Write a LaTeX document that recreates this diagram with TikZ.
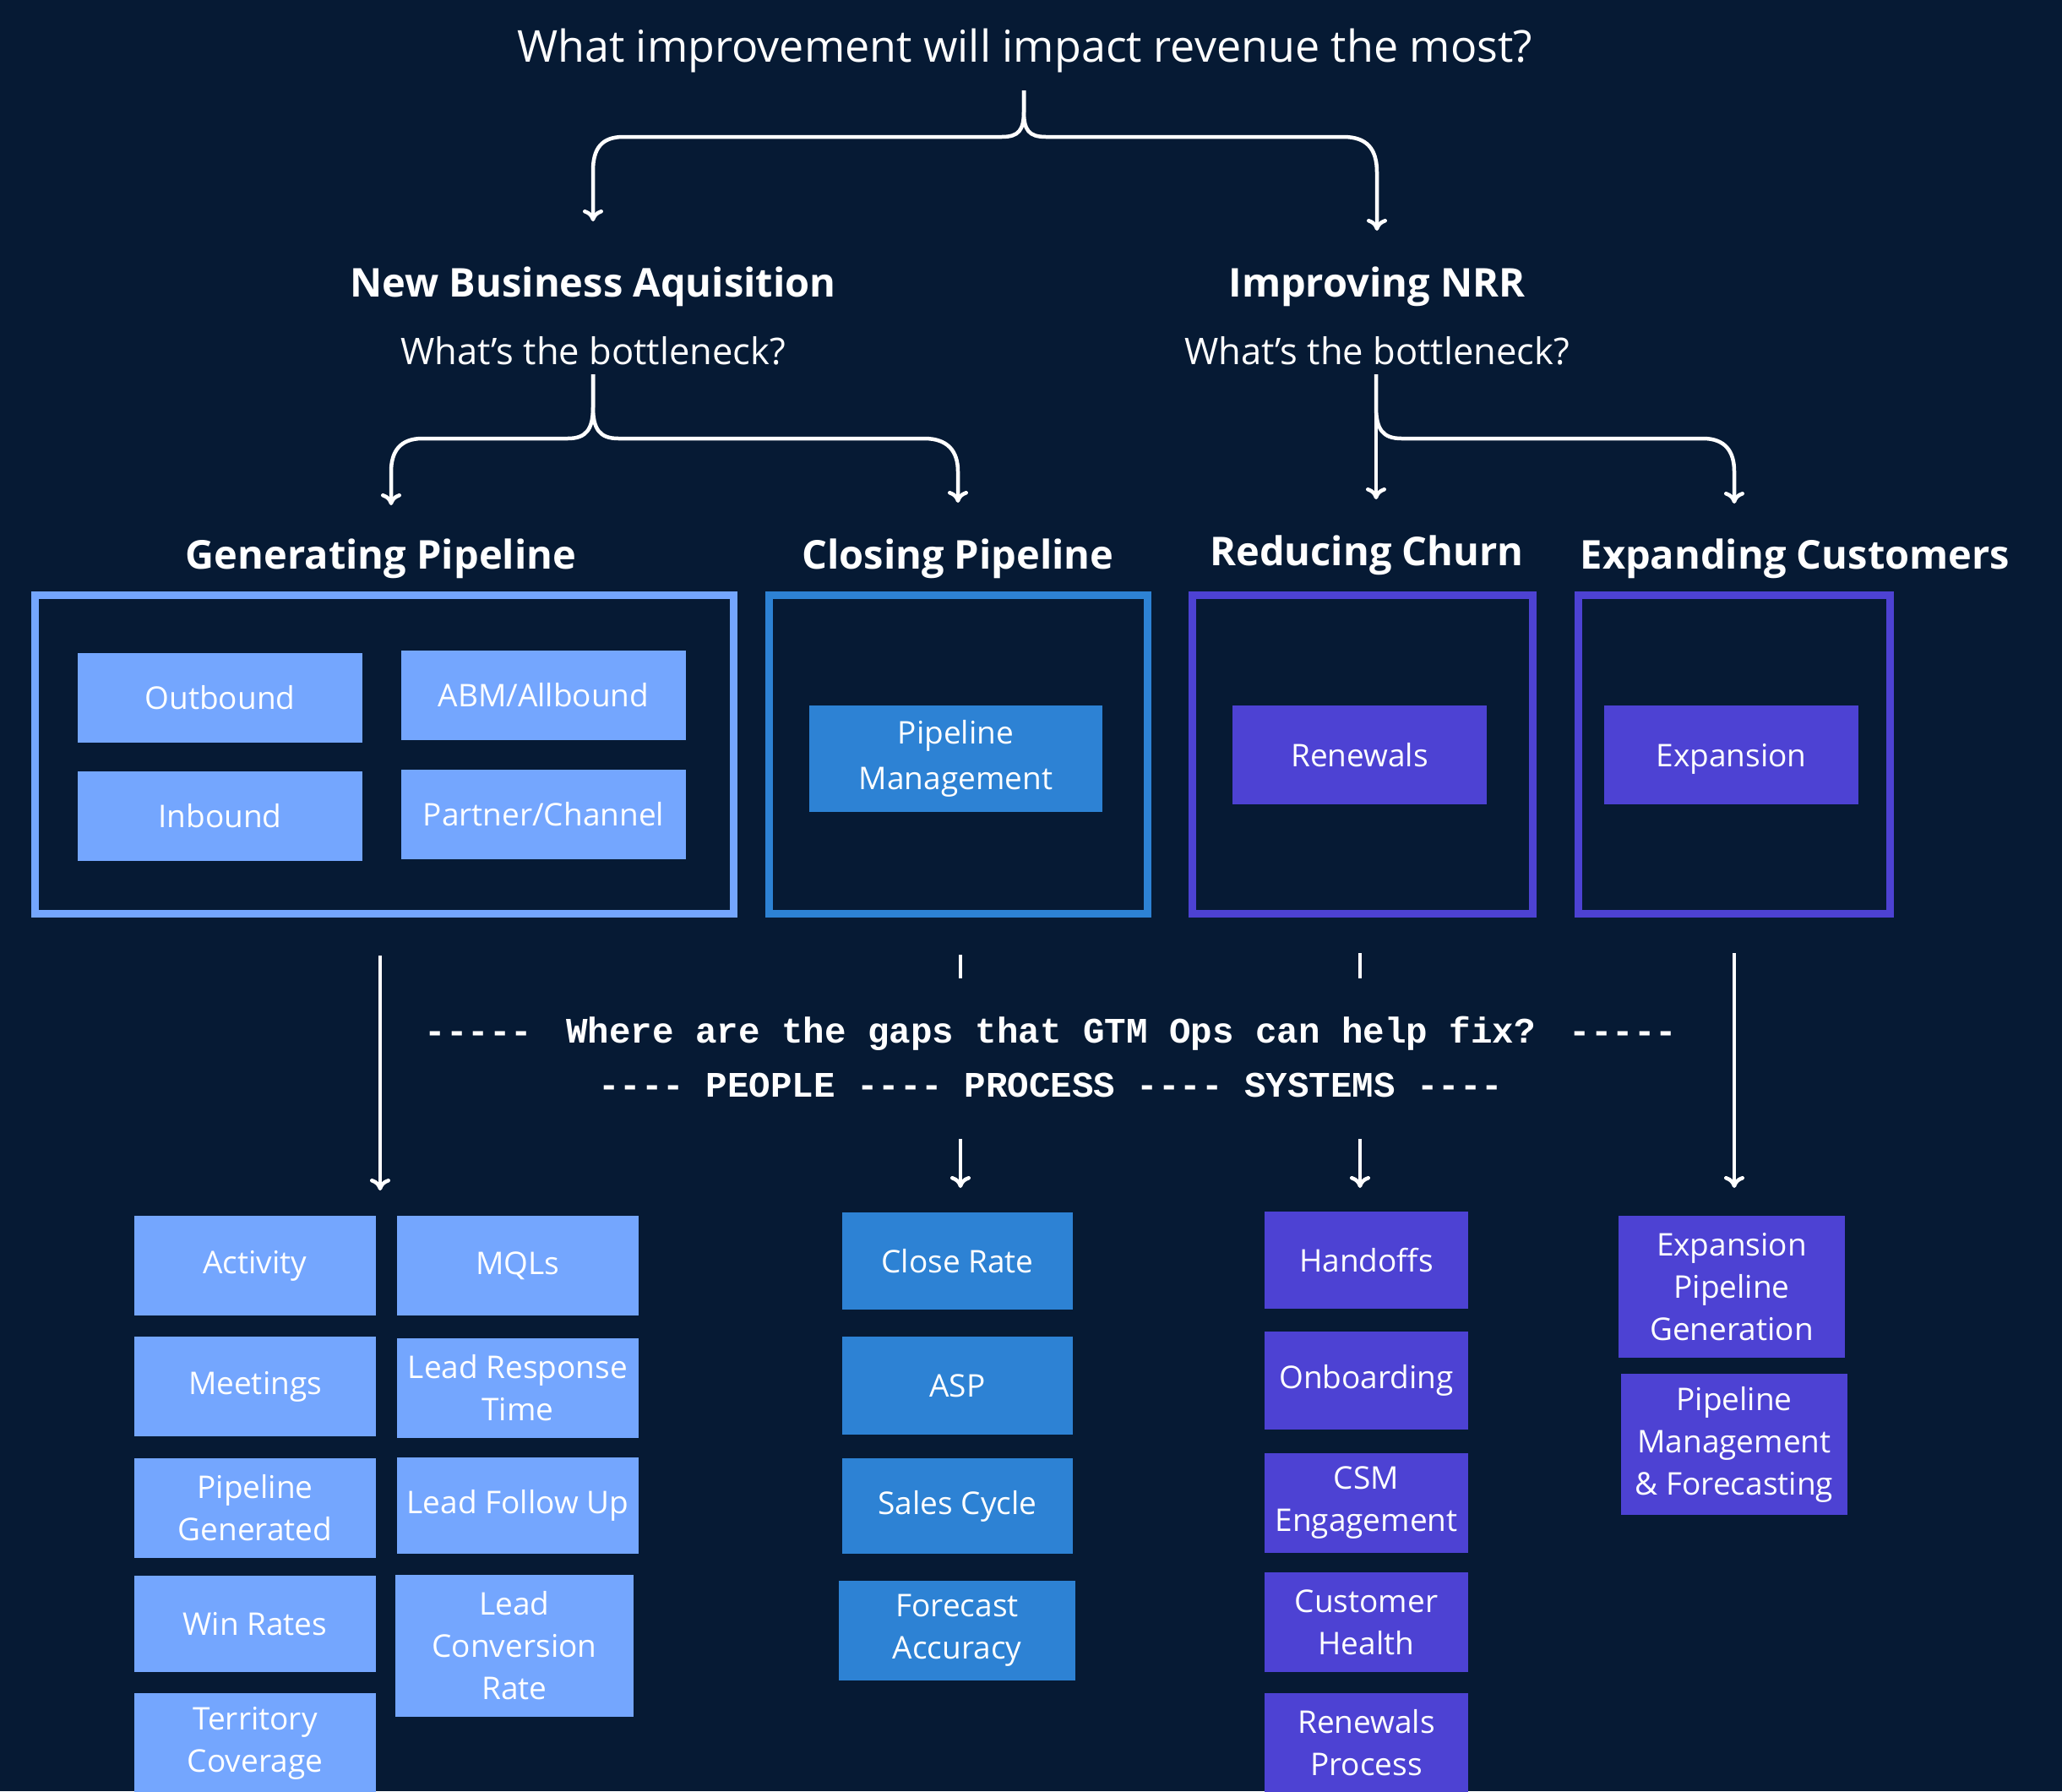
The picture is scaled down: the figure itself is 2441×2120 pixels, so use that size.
\documentclass[tikz,border=0pt]{standalone}
\usepackage{fontspec}
\setmainfont{Open Sans}
\setmonofont{Liberation Mono}
\usetikzlibrary{arrows.meta}
\definecolor{bg}{HTML}{061A34}
\definecolor{lb}{HTML}{74A6FE}
\definecolor{mb}{HTML}{2D82D4}
\definecolor{pu}{HTML}{4D42D3}
\begin{document}
\begin{tikzpicture}[x=1pt,y=-1pt,
  frame/.style={draw, line width=9pt, inner sep=0pt, outer sep=0pt},
  cell/.style={inner sep=0pt, outer sep=0pt, align=center, text=white, font=\fontsize{37}{50}\selectfont},
  tcell/.style={cell, font=\fontsize{37}{54}\selectfont},
  ttl/.style={text=white, inner sep=0pt, anchor=base, font=\fontsize{52}{60}\selectfont},
  hdr/.style={text=white, inner sep=0pt, anchor=base, font=\bfseries\fontsize{47}{56}\selectfont},
  sub/.style={text=white, inner sep=0pt, anchor=base, font=\fontsize{43.5}{50}\selectfont},
  gap/.style={text=white, inner sep=0pt, anchor=base, font=\ttfamily\bfseries\fontsize{42.5}{50}\selectfont},
  conn/.style={draw=white, line width=4.5pt, line join=round},
  arr/.style={conn, -{To[length=14pt,width=24pt]}}]
\fill[bg] (0,0) rectangle (2441,2120);
\clip (0,0) rectangle (2441,2120);

% titles
\node[ttl] (q) at (1213,73) {What improvement will impact revenue the most?};
\node[hdr] (nba) at (702,351) {New Business Aquisition};
\node[sub] (nbaq) at (702,431) {What’s the bottleneck?};
\node[hdr] (nrr) at (1630,351) {Improving NRR};
\node[sub] (nrrq) at (1630,431) {What’s the bottleneck?};

\node[hdr] (genh) at (451,673) {Generating Pipeline};
\node[hdr] (closh) at (1134,673) {Closing Pipeline};
\node[hdr] (churnh) at (1618,669) {Reducing Churn};
\node[hdr] (exph) at (2125,673) {Expanding Customers};

% frames
\node[frame, draw=lb, minimum width=827pt, minimum height=377pt] (genbox) at (455,893) {};
\node[frame, draw=mb, minimum width=448pt, minimum height=377pt] (closebox) at (1134.5,893) {};
\node[frame, draw=pu, minimum width=403pt, minimum height=377pt] (churnbox) at (1613,893) {};
\node[frame, draw=pu, minimum width=369pt, minimum height=377pt] (expbox) at (2053,893) {};

% top cells
\node[tcell, fill=lb, minimum width=337pt, minimum height=106pt] (outb) at (260.5,826) {Outbound};
\node[tcell, fill=lb, minimum width=337pt, minimum height=106pt] (abm) at (643.5,823) {ABM/Allbound};
\node[tcell, fill=lb, minimum width=337pt, minimum height=106pt] (inb) at (260.5,966) {Inbound};
\node[tcell, fill=lb, minimum width=337pt, minimum height=106pt] (part) at (643.5,964) {Partner/Channel};
\node[tcell, fill=mb, minimum width=347pt, minimum height=126pt] (pm) at (1131.5,898) {Pipeline\\Management};
\node[tcell, fill=pu, minimum width=301pt, minimum height=117pt] (ren) at (1609.5,893.5) {Renewals};
\node[tcell, fill=pu, minimum width=301pt, minimum height=117pt, text depth=0pt] (expn) at (2049.5,893.5) {Expansion};

% middle text
\node[gap] (gq) at (1244,1234) {-{}-{}-{}-{}-\hspace{40pt}Where are the gaps that GTM Ops can help fix?\hspace{40pt}-{}-{}-{}-{}-};
\node[gap] (pps) at (1244,1298) {-{}-{}-{}- PEOPLE -{}-{}-{}- PROCESS -{}-{}-{}- SYSTEMS -{}-{}-{}-};

% bottom cells: generating
\node[cell, fill=lb, minimum width=286pt, minimum height=118pt] (act) at (302,1498) {Activity};
\node[cell, fill=lb, minimum width=286pt, minimum height=118pt] (mql) at (613,1498) {MQLs};
\node[cell, fill=lb, minimum width=286pt, minimum height=118pt] (meet) at (302,1641) {Meetings};
\node[cell, fill=lb, minimum width=286pt, minimum height=118pt] (lrt) at (613,1643) {Lead Response\\Time};
\node[cell, fill=lb, minimum width=286pt, minimum height=118pt] (pgen) at (302,1785) {Pipeline\\Generated};
\node[cell, fill=lb, minimum width=286pt, minimum height=114pt] (lfu) at (613,1782) {Lead Follow Up};
\node[cell, fill=lb, minimum width=286pt, minimum height=114pt] (win) at (302,1922) {Win Rates};
\node[cell, fill=lb, minimum width=282pt, minimum height=168pt] (lcr) at (609,1948) {Lead\\Conversion\\Rate};
\node[cell, fill=lb, minimum width=286pt, minimum height=118pt] (terr) at (302,2063) {Territory\\Coverage};
% closing
\node[cell, fill=mb, minimum width=273pt, minimum height=115pt] (cr) at (1133.5,1492.5) {Close Rate};
\node[cell, fill=mb, minimum width=273pt, minimum height=116pt] (asp) at (1133.5,1640) {ASP};
\node[cell, fill=mb, minimum width=273pt, minimum height=113pt] (sc) at (1133.5,1782.5) {Sales Cycle};
\node[cell, fill=mb, minimum width=280pt, minimum height=118pt] (fa) at (1133,1930) {Forecast\\Accuracy};
% churn
\node[cell, fill=pu, minimum width=241pt, minimum height=115pt] (hand) at (1617.5,1491.5) {Handoffs};
\node[cell, fill=pu, minimum width=241pt, minimum height=116pt] (onb) at (1617.5,1634) {Onboarding};
\node[cell, fill=pu, minimum width=241pt, minimum height=118pt] (csm) at (1617.5,1779) {CSM\\Engagement};
\node[cell, fill=pu, minimum width=241pt, minimum height=118pt] (ch) at (1617.5,1920) {Customer\\Health};
\node[cell, fill=pu, minimum width=241pt, minimum height=118pt] (rp) at (1617.5,2063) {Renewals\\Process};
% expansion
\node[cell, fill=pu, minimum width=268pt, minimum height=168pt] (epg) at (2050,1523) {Expansion\\Pipeline\\Generation};
\node[cell, fill=pu, minimum width=268pt, minimum height=167pt] (pmf) at (2053,1709.5) {Pipeline\\Management\\\& Forecasting};

% coordinates for connectors
\coordinate (t0) at (1212,107);
\coordinate (tL) at (702,262);
\coordinate (tR) at (1630,273);
\coordinate (l0) at (702,443);
\coordinate (lL) at (463,598);
\coordinate (lR) at (1134,595);
\coordinate (r0) at (1629,443);
\coordinate (rL) at (1629,591);
\coordinate (rR) at (2053,596);

% top brace
\draw[arr] (t0) -- (1212,132) .. controls (1212,154) and (1206,162) .. (1186,162) -- (738,162) .. controls (712,162) and (702,176) .. (702,202) -- (tL);
\draw[arr] (t0) -- (1212,132) .. controls (1212,154) and (1218,162) .. (1238,162) -- (1590,162) .. controls (1618,162) and (1630,176) .. (1630,204) -- (tR);

% left second brace
\draw[arr] (l0) -- (702,482) .. controls (702,508) and (694,519) .. (672,519) -- (500,519) .. controls (474,519) and (463,534) .. (463,558) -- (lL);
\draw[arr] (l0) -- (702,482) .. controls (702,508) and (710,519) .. (732,519) -- (1094,519) .. controls (1122,519) and (1134,534) .. (1134,558) -- (lR);

% right second brace
\draw[arr] (r0) -- (rL);
\draw[arr] (r0) -- (1629,482) .. controls (1629,508) and (1637,519) .. (1659,519) -- (2016,519) .. controls (2042,519) and (2053,534) .. (2053,558) -- (rR);

% middle arrows
\coordinate (g1) at (450,1131); \coordinate (g2) at (450,1409);
\coordinate (c1) at (1137,1130); \coordinate (c2) at (1137,1158);
\coordinate (c3) at (1137,1348); \coordinate (c4) at (1137,1406);
\coordinate (u1) at (1610,1128); \coordinate (u2) at (1610,1158);
\coordinate (u3) at (1610,1348); \coordinate (u4) at (1610,1406);
\coordinate (e1) at (2053,1128); \coordinate (e2) at (2053,1406);
\draw[arr] (g1) -- (g2);
\draw[conn] (c1) -- (c2);
\draw[arr] (c3) -- (c4);
\draw[conn] (u1) -- (u2);
\draw[arr] (u3) -- (u4);
\draw[arr] (e1) -- (e2);
\end{tikzpicture}
\end{document}
